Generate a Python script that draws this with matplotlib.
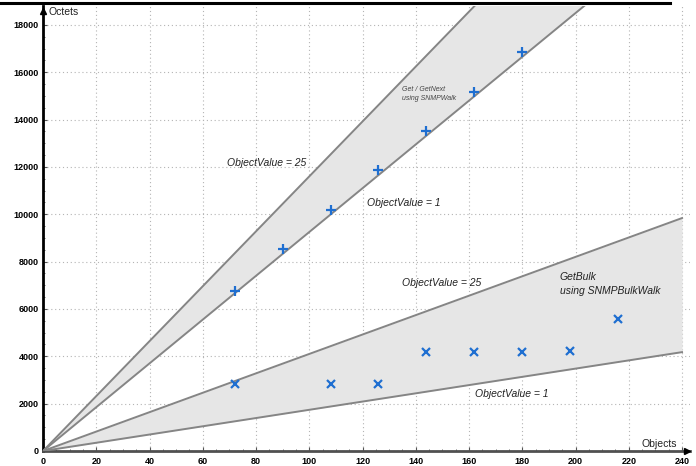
import numpy as np
import matplotlib
matplotlib.use("Agg")
import matplotlib.pyplot as plt
from matplotlib.lines import Line2D
from matplotlib.ticker import MultipleLocator

plt.rcParams['font.family'] = ['Liberation Sans', 'DejaVu Sans']

# Get / GetNext using SNMPWalk (measured points)
walk_objects = [72, 90, 108, 126, 144, 162, 180]
walk_octets = [6770, 8530, 10180, 11860, 13520, 15170, 16850]

# GetBulk using SNMPBulkWalk (measured points)
bulk_objects = [72, 108, 126, 144, 162, 180, 198, 216]
bulk_octets = [2815, 2815, 2815, 4170, 4170, 4170, 4220, 5577]

# octets per object for the band limits (ObjectValue = 1 / ObjectValue = 25)
walk_slope_min = 92.5
walk_slope_max = 116.0
bulk_slope_min = 17.4
bulk_slope_max = 41.0

band_x = np.array([0, 240])

fig = plt.figure(figsize=(6.96, 4.66), dpi=100)
ax = fig.add_axes([0.0618, 0.0322, 0.9296, 0.955])

line_col = '#858585'
fill_col = '#e6e6e6'
blue = '#1f6fd1'

# bands
ax.fill_between(band_x, walk_slope_min * band_x, walk_slope_max * band_x,
                color=fill_col, lw=0, zorder=1)
ax.fill_between(band_x, bulk_slope_min * band_x, bulk_slope_max * band_x,
                color=fill_col, lw=0, zorder=1)
for s in (walk_slope_min, walk_slope_max, bulk_slope_min, bulk_slope_max):
    ax.plot(band_x, s * band_x, color=line_col, lw=1.4, zorder=3)

# measured points
ax.plot(walk_objects, walk_octets, '+', color=blue, ms=7, mew=1.6, zorder=4)
ax.plot(bulk_objects, bulk_octets, 'x', color=blue, ms=6, mew=1.6, zorder=4)

ax.set_xlim(0, 243)
ax.set_ylim(0, 18800)
ax.xaxis.set_major_locator(MultipleLocator(20))
ax.xaxis.set_minor_locator(MultipleLocator(5))
ax.yaxis.set_major_locator(MultipleLocator(2000))
ax.yaxis.set_minor_locator(MultipleLocator(500))
ax.set_xticks(np.arange(0, 241, 20))
ax.grid(True, which='major', linestyle=(0, (1, 2.5)), color='#b4b4b4',
        lw=0.8, zorder=0)
ax.set_axisbelow(True)

ax.tick_params(axis='both', which='both', direction='in', color='#555555',
               labelsize=6.5)
ax.tick_params(axis='both', which='major', length=3, width=0.8)
ax.tick_params(axis='both', which='minor', length=1.5, width=0.6)
ax.tick_params(axis='x', pad=4)
ax.tick_params(axis='y', pad=3)
for lab in ax.get_xticklabels() + ax.get_yticklabels():
    lab.set_fontweight('bold')

for sp in ('top', 'right'):
    ax.spines[sp].set_visible(False)
ax.spines['left'].set_color('black')
ax.spines['left'].set_linewidth(2)
ax.spines['bottom'].set_color('#505050')
ax.spines['bottom'].set_linewidth(2)
ax.plot(0, 0.988, '^', color='black', ms=5, transform=ax.transAxes,
        clip_on=False, zorder=6)
ax.plot(0.995, 0, '>', color='black', ms=5, transform=ax.transAxes,
        clip_on=False, zorder=6)

ax.text(0.008, 0.986, 'Octets', transform=ax.transAxes, ha='left',
        va='center', fontsize=7.5, color='#222222')
ax.text(231.5, 0.004, 'Objects', transform=ax.get_xaxis_transform(),
        ha='center', va='bottom', fontsize=7.5, color='#222222')

# annotations
txt = dict(style='italic', fontsize=7.5, color='#222222', zorder=5)
ax.text(69, 12150, 'ObjectValue = 25', ha='left', va='center', **txt)
ax.text(121.5, 10480, 'ObjectValue = 1', ha='left', va='center', **txt)
ax.text(135, 7100, 'ObjectValue = 25', ha='left', va='center', **txt)
ax.text(162.4, 2410, 'ObjectValue = 1', ha='left', va='center', **txt)
ax.text(194, 7055, 'GetBulk\nusing SNMPBulkWalk', ha='left', va='center',
        linespacing=1.5, **txt)
ax.text(135, 15080, 'Get / GetNext\nusing SNMPWalk', ha='left', va='center',
        style='italic', fontsize=5, color='#444444', linespacing=1.4, zorder=5)

# black rule at the very top of the picture
fig.add_artist(Line2D([0, 0.963], [0.994, 0.994], color='black', lw=2.2))

fig.savefig('out.png', dpi=100)
